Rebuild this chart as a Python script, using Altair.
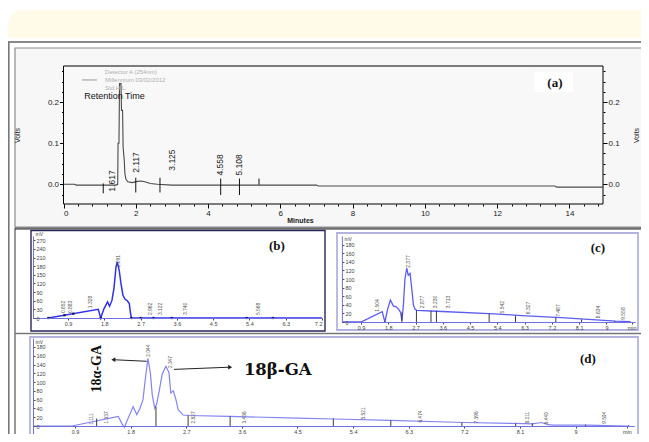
import altair as alt
import pandas as pd

# ---------------- panel (a): detector trace, Volts vs minutes
a_time = [0.0, 0.30, 0.35, 1.45, 1.50, 1.51, 1.535, 1.55, 1.59, 1.605, 1.635, 1.65, 1.68, 1.70,
          1.73, 1.78, 1.90, 2.05, 2.15, 2.25, 2.40, 2.60, 3.00, 7.00, 7.05, 13.60, 13.65, 14.93]
a_volts = [0.0, 0.0, -0.002, -0.002, 0.0, 0.10, 0.10, 0.245, 0.245, 0.18, 0.18, 0.09, 0.06, 0.025,
           0.012, 0.006, 0.004, 0.007, 0.008, 0.006, 0.002, 0.0, -0.002, -0.002, -0.004, -0.004, -0.007, -0.007]
a_mark_x = [1.10, 2.00, 2.67, 4.35, 4.87, 5.41]
a_mark_lo = [-0.022, -0.020, -0.020, -0.026, -0.026, -0.001]
a_mark_hi = [0.002, 0.016, 0.016, 0.014, 0.014, 0.014]
a_lab_text = ["1.617", "2.117", "3.125", "4.558", "5.108"]
a_lab_x = [1.33, 2.00, 2.99, 4.33, 4.86]
a_lab_y = [0.008, 0.053, 0.059, 0.047, 0.047]
a_legend = ["Detector A (254nm)", "Millennium 03/02/2012", "Std.H.L."]
a_legend_y = [0.273, 0.254, 0.234]

# ---------------- panel (b)
b_time = [0.41, 1.65, 1.71, 1.79, 1.88, 1.93, 1.99, 2.04, 2.09, 2.12, 2.17, 2.21, 2.26, 2.31, 2.37, 2.42, 2.445, 2.47, 7.2]
b_mv = [0, 30, 0, 32, 56, 41, 62, 105, 178, 195, 165, 122, 80, 66, 60, 50, 20, 0, 0]
b_mark_x = [0.41, 0.81, 1.03, 1.71, 2.47, 2.70, 3.02, 3.47, 5.33, 5.98]
b_mark_y = [0, 9.7, 15, 0, 0, 0, 0, 0, 0, 0]
b_lab_text = ["0.652", "0.883", "1.328", "2.091", "2.962", "3.122", "3.740", "5.568"]
b_lab_x = [0.77, 0.95, 1.44, 2.14, 2.93, 3.18, 3.80, 5.62]
b_lab_y = [17, 17, 34, 176, 10, 10, 10, 10]

# ---------------- panel (c)
c_time = [0.30, 0.90, 1.60, 1.69, 1.78, 1.87, 1.97, 2.05, 2.14, 2.21, 2.25, 2.30, 2.35, 2.41, 2.46,
          2.52, 2.58, 2.63, 2.68, 2.74, 3.40, 5.30, 6.20, 7.50, 8.40, 9.30, 9.80]
c_mv = [0, 0, 24, 0, 30, 51, 37, 36, 30, 22, 3, 40, 100, 125, 109, 113, 75, 40, 30, 27, 25, 19, 15, 10, 6, 2, 1]
c_mark_x = [1.69, 2.25, 2.73, 3.21, 3.39, 5.13, 6.00, 7.33, 8.18, 9.28]
c_mark_y = [2, 22, 27, 26, 26, 19, 15, 10, 6, 2]
c_lab_text = ["1.504", "2.377", "2.877", "3.230", "3.713", "5.542", "6.327", "7.487", "8.634", "9.558"]
c_lab_x = [1.42, 2.46, 2.90, 3.34, 3.78, 5.54, 6.42, 7.41, 8.73, 9.56]
c_lab_y = [24, 126, 32, 32, 32, 20, 18, 12, 9, 5]

# ---------------- panel (d)
d_time = [0.22, 0.85, 1.60, 1.66, 1.70, 1.76, 1.84, 1.90, 1.95, 2.00, 2.04, 2.08, 2.12, 2.15, 2.19,
          2.22, 2.26, 2.31, 2.37, 2.42, 2.45, 2.49, 2.53, 2.57, 2.65, 2.75, 3.40, 4.50, 5.10, 6.00,
          7.20, 8.00, 8.30, 8.45, 8.55, 8.65, 9.20, 9.50, 9.85]
d_mv = [0, 0, 22, 5, -3, 18, 44, 26, 40, 60, 110, 154, 120, 70, 40, 50, 78, 118, 136, 122, 75, 80,
        62, 37, 25, 24, 22, 18, 16, 13, 8, 6, 5, 8, 3, 2, 2, 1, 0]
d_mark_x = [1.25, 2.21, 2.73, 3.41, 5.08, 6.01, 7.16, 8.03, 8.30, 9.16, 9.86]
d_mark_y = [17, 44, 24, 22, 17, 13, 8, 6, 6, 3, 2]
d_lab_text = ["1.111", "1.337", "2.044", "2.347", "2.827", "3.438", "5.521", "6.474", "7.398", "8.211", "8.440", "9.504"]
d_lab_x = [1.17, 1.41, 2.09, 2.45, 2.83, 3.65, 5.58, 6.50, 7.40, 8.23, 8.53, 9.48]
d_lab_y = [3, 6, 158, 132, 6, 6, 15, 8, 6, 6, 4, 5]

W, H = 633, 426
SANS = "Liberation Sans"
SERIF = "Liberation Serif"


def sc(domain, rng):
    return alt.Scale(domain=domain, range=rng, nice=False, zero=False)


AX, AY = sc([0, 14.93], [55.5, 595]), sc([-0.048, 0.288], [196, 58])
BX, BY = sc([0.03, 7.2], [25, 314]), sc([0, 285], [310, 228])
CX, CY = sc([0.27, 9.95], [333.9, 627.2]), sc([0, 200], [314, 228])
DX, DY = sc([0.22, 9.95], [25, 626.3]), sc([-20, 200], [426.8, 330.2])

one = pd.DataFrame({"k": [0]})


def box(x, x2, y, y2, **kw):
    return alt.Chart(one).mark_rect(**kw).encode(
        x=alt.value(x), x2=alt.value(x2), y=alt.value(y), y2=alt.value(y2))


def hline(x, x2, y, **kw):
    return alt.Chart(one).mark_rule(**kw).encode(x=alt.value(x), x2=alt.value(x2), y=alt.value(y))


def vline(x, y, y2, **kw):
    return alt.Chart(one).mark_rule(**kw).encode(x=alt.value(x), y=alt.value(y), y2=alt.value(y2))


deco = [
    box(0, W, 2, 30, fill="#fffbe8", cornerRadiusTopLeft=14),
    hline(0, W, 34, color="#8a8a8a", strokeWidth=2),
    vline(0.8, 34, H, color="#777777", strokeWidth=1.6),
    box(7, 645, 40, 219, fill="#f7f7f7", stroke="#8c8c8c", strokeWidth=1.2),
    hline(7, W, 220.5, color="#6e6e6e", strokeWidth=2.5),
    box(55.5, 595, 58, 196, fill="#f8f8f8", stroke="#000000", strokeWidth=1),
    vline(7, 220, H, color="#555555", strokeWidth=1.2),
    box(23, 317, 222.5, 323, fill="white", stroke="#27275a", strokeWidth=1.4),
    box(329, 630, 225, 322, fill="white", stroke="#b3b3df", strokeWidth=1.8),
    vline(637, 220, 327, color="#9a9a9a", strokeWidth=1.2),
    hline(7, 637, 325.5, color="#777777", strokeWidth=1.5),
    box(22, 630, 329, 440, fill="white", stroke="#b3b3df", strokeWidth=1.8),
]

# ---------------- panel (a) layers
a_df = pd.DataFrame({"t": a_time, "v": a_volts})
a_marks = pd.DataFrame({"t": a_mark_x, "lo": a_mark_lo, "hi": a_mark_hi})
a_labs = pd.DataFrame({"t": a_lab_x, "v": a_lab_y, "s": a_lab_text})
a_leg = pd.DataFrame({"t": [1.15] * 3, "v": a_legend_y, "s": a_legend})
a_misc = pd.DataFrame({"t": [1.41], "v": [0.214], "s": ["Retention Time"]})
a_tag = pd.DataFrame({"t": [13.6], "v": [0.247], "s": ["(a)"], "t0": [13.04], "t1": [14.1], "v0": [0.225], "v1": [0.274]})
a_legline = pd.DataFrame({"t": [0.51], "t2": [0.93], "v": [0.254]})

minor_x = [round(i * 0.4, 1) for i in range(38)]
minor_y = [round(-0.025 + i * 0.025, 3) for i in range(13)]

BIG = dict(labelFont=SANS, labelFontSize=8, labelColor="#222", tickColor="#000",
           domain=False, grid=False, labelPadding=1, zindex=2)
MINOR = dict(labels=False, tickSize=2, tickColor="#000", domain=False, grid=False, title=None, zindex=2)

a_line = alt.Chart(a_df).mark_line(color="#4a4a4a", strokeWidth=1.1).encode(
    x=alt.X("t:Q", scale=AX, axis=alt.Axis(
        orient="bottom", offset=-230, values=list(range(0, 15, 2)), format="d", tickSize=4,
        title="Minutes", titleFont=SANS, titleFontSize=7, titleFontWeight="bold",
        titleColor="#222", titleX=292, titleY=16, titleAlign="center", titleBaseline="middle", **BIG)),
    y=alt.Y("v:Q", scale=AY, axis=alt.Axis(
        orient="left", offset=-55.5, values=[0, 0.1, 0.2], format=".1f", tickSize=4,
        title="Volts", titleFont=SANS, titleFontSize=7, titleFontWeight="normal",
        titleColor="#222", titleX=-46.5, titleY=127, titleAngle=270, titleAlign="center",
        titleBaseline="middle", **BIG)),
)
a_rules = alt.Chart(a_marks).mark_rule(color="#111", strokeWidth=1).encode(
    x=alt.X("t:Q", scale=AX, axis=alt.Axis(orient="bottom", offset=-230, values=minor_x, **MINOR)),
    y=alt.Y("lo:Q", scale=AY, axis=alt.Axis(orient="left", offset=-55.5, values=minor_y, **MINOR)),
    y2="hi:Q",
)
a_text = alt.Chart(a_labs).mark_text(angle=270, align="center", baseline="middle",
                                     font=SANS, fontSize=8.5, color="#222").encode(
    x=alt.X("t:Q", scale=AX, axis=None),
    y=alt.Y("v:Q", scale=AY, axis=alt.Axis(
        orient="right", offset=-38, values=[0, 0.1, 0.2], format=".1f", tickSize=4,
        title="Volts", titleFont=SANS, titleFontSize=7, titleFontWeight="normal",
        titleColor="#222", titleX=33, titleY=127, titleAngle=270, titleAlign="center",
        titleBaseline="middle", **BIG)),
    text="s:N",
)
a_box = alt.Chart(a_tag).mark_rect(fill="white").encode(
    x=alt.X("t0:Q", scale=AX, axis=None), x2="t1:Q",
    y=alt.Y("v0:Q", scale=AY, axis=alt.Axis(orient="right", offset=-38, values=minor_y, **MINOR)),
    y2="v1:Q",
)
a_tagtext = alt.Chart(a_tag).mark_text(font=SERIF, fontWeight="bold", fontSize=13, color="#111").encode(
    x=alt.X("t:Q", scale=AX, axis=None), y=alt.Y("v:Q", scale=AY, axis=None), text="s:N")
a_legtext = alt.Chart(a_leg).mark_text(align="left", baseline="middle", font=SANS, fontSize=6,
                                       color="#b0b0b0").encode(
    x=alt.X("t:Q", scale=AX, axis=None), y=alt.Y("v:Q", scale=AY, axis=None), text="s:N")
a_legrule = alt.Chart(a_legline).mark_rule(color="#999", strokeWidth=1).encode(
    x=alt.X("t:Q", scale=AX, axis=None), x2="t2:Q", y=alt.Y("v:Q", scale=AY, axis=None))
a_rt = alt.Chart(a_misc).mark_text(align="center", baseline="middle", font=SANS, fontSize=9,
                                   color="#111").encode(
    x=alt.X("t:Q", scale=AX, axis=None), y=alt.Y("v:Q", scale=AY, axis=None), text="s:N")

# ---------------- helpers for (b), (c), (d)
SMALL = dict(labelFont=SANS, labelFontSize=5.5, labelColor="#444", tickSize=2, tickColor="#444",
             grid=False, labelPadding=1, zindex=2)


def xaxis(offset, values, expr):
    return alt.Axis(orient="bottom", offset=offset, values=values, labelExpr=expr,
                    domain=True, domainColor="#7070e0", domainWidth=1, title=None, **SMALL)


def yaxis(offset, values, title_y):
    return alt.Axis(orient="right", offset=offset, values=values, format="d",
                    domain=True, domainColor="#7070d0", domainWidth=1,
                    title="mV", titleFont=SANS, titleFontSize=5, titleFontWeight="normal",
                    titleColor="#444", titleAngle=0, titleX=2, titleY=title_y,
                    titleAlign="left", titleBaseline="middle", **SMALL)


def panel(time, mv, color, width, X, Y, xax, yax, marks_x, marks_y, lab_x, lab_y, lab_t,
          tag, tag_x, tag_y, fs, mark_kind="rule"):
    df = pd.DataFrame({"t": time, "v": mv})
    line = alt.Chart(df).mark_line(color=color, strokeWidth=width).encode(
        x=alt.X("t:Q", scale=X, axis=xax), y=alt.Y("v:Q", scale=Y, axis=yax))
    mk = pd.DataFrame({"t": marks_x, "v": marks_y, "z": [0] * len(marks_x)})
    if mark_kind == "rule":
        marks = alt.Chart(mk).mark_rule(color="#3a3a3a", strokeWidth=1).encode(
            x=alt.X("t:Q", scale=X, axis=None), y=alt.Y("z:Q", scale=Y, axis=None), y2="v:Q")
    else:
        marks = alt.Chart(mk).mark_square(color="#15153f", size=5, opacity=1).encode(
            x=alt.X("t:Q", scale=X, axis=None), y=alt.Y("v:Q", scale=Y, axis=None))
    lb = pd.DataFrame({"t": lab_x, "v": lab_y, "s": lab_t})
    labs = alt.Chart(lb).mark_text(angle=270, align="left", baseline="middle", font=SANS,
                                   fontSize=fs, color="#555").encode(
        x=alt.X("t:Q", scale=X, axis=None), y=alt.Y("v:Q", scale=Y, axis=None), text="s:N")
    tg = pd.DataFrame({"t": [tag_x], "v": [tag_y], "s": [tag]})
    tagt = alt.Chart(tg).mark_text(font=SERIF, fontWeight="bold", fontSize=13, color="#111").encode(
        x=alt.X("t:Q", scale=X, axis=None), y=alt.Y("v:Q", scale=Y, axis=None), text="s:N")
    return [line, marks, labs, tagt]


b_xvals = [0.9, 1.8, 2.7, 3.6, 4.5, 5.4, 6.3, 7.2]
cd_xvals = [0.9, 1.8, 2.7, 3.6, 4.5, 5.4, 6.3, 7.2, 8.1, 9.0, 9.83]
b_layers = panel(b_time, b_mv, "#3030ee", 1.5, BX, BY,
                 xaxis(-116, b_xvals, "format(datum.value, '.1f')"),
                 yaxis(-608, list(range(0, 271, 30)), 225.8),
                 b_mark_x, b_mark_y, b_lab_x, b_lab_y, b_lab_text, "(b)", 6.08, 249, 5, "dot")
c_layers = panel(c_time, c_mv, "#5c5cf0", 1.3, CX, CY,
                 xaxis(-112, cd_xvals, "datum.value > 9.5 ? 'min' : (datum.value == 9 ? '9' : format(datum.value, '.1f'))"),
                 yaxis(-299.1, list(range(0, 181, 20)), 230),
                 c_mark_x, c_mark_y, c_lab_x, c_lab_y, c_lab_text, "(c)", 8.72, 172, 5)
d_layers = panel(d_time, d_mv, "#8383f2", 1.2, DX, DY,
                 xaxis(-8, cd_xvals, "datum.value > 9.5 ? 'min' : (datum.value == 9 ? '9' : replace(format(datum.value, '.1f'), '.', ','))"),
                 yaxis(-608, list(range(0, 181, 20)), 333),
                 d_mark_x, d_mark_y, d_lab_x, d_lab_y, d_lab_text, "(d)", 9.20, 153, 4.8)

# annotations in (d)
ann = pd.DataFrame({"t": [1.25, 4.18], "v": [130.5, 127], "s": ["18α-GA", "18β-GA"]})
alpha_t = alt.Chart(ann.iloc[[0]]).mark_text(angle=270, font=SERIF, fontWeight="bold", fontSize=14,
                                             color="#111", align="center", baseline="middle").encode(
    x=alt.X("t:Q", scale=DX, axis=None), y=alt.Y("v:Q", scale=DY, axis=None), text="s:N")
beta_t = alt.Chart(ann.iloc[[1]]).mark_text(font="DejaVu Serif", fontWeight="bold", fontSize=16.5,
                                            color="#111", align="center", baseline="middle").encode(
    x=alt.X("t:Q", scale=DX, axis=None), y=alt.Y("v:Q", scale=DY, axis=None), text="s:N")
arrows = pd.DataFrame({"t": [2.06, 2.50], "t2": [1.52, 3.41], "v": [147.4, 129], "v2": [151, 134]})
arrow_lines = alt.Chart(arrows).mark_rule(color="#222", strokeWidth=1).encode(
    x=alt.X("t:Q", scale=DX, axis=None), x2="t2:Q",
    y=alt.Y("v:Q", scale=DY, axis=None), y2="v2:Q")
heads = pd.DataFrame({"t": [1.52, 3.41], "v": [151, 134], "shape": ["triangle-left", "triangle-right"]})
arrow_heads = alt.Chart(heads).mark_point(filled=True, size=22, color="#222", opacity=1).encode(
    x=alt.X("t:Q", scale=DX, axis=None), y=alt.Y("v:Q", scale=DY, axis=None),
    shape=alt.Shape("shape:N", scale=alt.Scale(domain=["triangle-left", "triangle-right"],
                                               range=["triangle-left", "triangle-right"]),
                    legend=None))

layers = deco + [a_line, a_rules, a_text, a_box, a_tagtext, a_legtext, a_legrule, a_rt] \
    + b_layers + c_layers + d_layers + [alpha_t, beta_t, arrow_lines, arrow_heads]

chart = alt.layer(*layers).resolve_scale(
    x="independent", y="independent", shape="independent"
).resolve_axis(x="independent", y="independent").properties(
    width=W, height=H, autosize=alt.AutoSizeParams(type="none"), padding=0,
    background="white"
).configure_view(stroke=None)

chart.save("out.html", embed_options={"renderer": "svg", "actions": False})
